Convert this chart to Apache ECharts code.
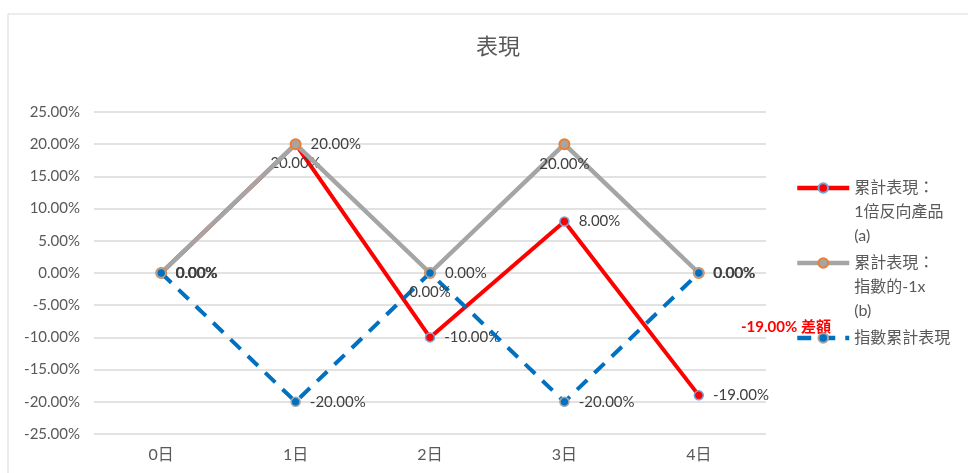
<!DOCTYPE html>
<html>
<head>
<meta charset="utf-8">
<script src="https://cdn.jsdelivr.net/npm/echarts@6/dist/echarts.min.js"></script>
<style>html,body{margin:0;padding:0;background:#fff;}#c{width:968px;height:473px;}</style>
</head>
<body>
<div id="c"></div>
<script>
const categories = ['0日', '1日', '2日', '3日', '4日'];
const nameA = '累計表現：\n1倍反向產品\n(a)';
const nameB = '累計表現：\n指數的-1x\n(b)';
const nameC = '指數累計表現';
const valuesA = [0, 0.20, -0.10, 0.08, -0.19];
const valuesB = [0, 0.20, 0, 0.20, 0];
const valuesC = [0, -0.20, 0, -0.20, 0];
const titleText = '表現';
const noteText = '-19.00% 差額';

const labelPosA = ['right', 'bottom', 'right', 'right', 'right'];
const labelPosB = ['right', 'right', 'right', 'bottom', 'right'];
const labelPosC = ['right', 'right', 'bottom', 'right', 'right'];

const FONT = "Lato, 'Noto Sans CJK TC', sans-serif";
const pct = v => (v * 100).toFixed(2) + '%';

function mkData(vals, pos) {
  return vals.map((v, i) => ({
    value: v,
    label: pos[i] === 'bottom' ? { position: 'bottom', distance: 6 } : { position: 'right', distance: 9 }
  }));
}

const labelBase = { show: true, formatter: p => pct(p.value), color: '#404040', fontSize: 15, fontFamily: FONT };

function mkLegend(name, top, multi) {
  return {
    data: [name], left: 795, top: top,
    orient: 'vertical', padding: 0, itemWidth: 52, itemHeight: 12, selectedMode: false,
    lineStyle: { width: 4.5 },
    formatter: multi ? (n => '\n\n' + n) : (n => n),
    textStyle: { fontSize: 16, lineHeight: 24, color: '#595959', fontFamily: FONT }
  };
}

const chart = echarts.init(document.getElementById('c'));
chart.setOption({
  animation: false,
  backgroundColor: '#fff',
  title: { text: titleText, left: 493, textAlign: 'center', top: 31,
    textStyle: { fontSize: 22, fontWeight: 'normal', color: '#595959', fontFamily: FONT } },
  grid: { left: 94, right: 202, top: 112, bottom: 39 },
  graphic: [
    { type: 'rect', shape: { x: 8, y: 14, width: 980, height: 520 }, style: { fill: 'none', stroke: '#D9D9D9', lineWidth: 1 }, z: -1 },
    { type: 'text', x: 741, y: 327, style: { text: noteText, fill: '#FF0000', font: "bold 15px Lato, 'Noto Sans CJK TC'", verticalAlign: 'middle' }, z: 1 }
  ],
  legend: [
    mkLegend(nameA, 128, true),
    mkLegend(nameB, 203, true),
    mkLegend(nameC, 326, false)
  ],
  xAxis: {
    type: 'category', data: categories, boundaryGap: true,
    axisLine: { show: false }, axisTick: { show: false },
    axisLabel: { color: '#595959', fontSize: 16, fontFamily: FONT, margin: 13 }
  },
  yAxis: {
    type: 'value', min: -0.25, max: 0.25, interval: 0.05,
    axisLine: { show: false }, axisTick: { show: false },
    axisLabel: { formatter: pct, color: '#595959', fontSize: 15, fontFamily: FONT, margin: 14 },
    splitLine: { lineStyle: { color: '#D9D9D9', width: 1.5 } }
  },
  series: [
    { name: nameA, type: 'line', data: mkData(valuesA, labelPosA), symbol: 'circle', symbolSize: 9,
      lineStyle: { color: '#FF0000', width: 4 }, itemStyle: { color: '#FF0000', borderColor: '#6FA8DC', borderWidth: 1.5 },
      label: labelBase, z: 2 },
    { name: nameB, type: 'line', data: mkData(valuesB, labelPosB), symbol: 'circle', symbolSize: 10,
      lineStyle: { color: '#A5A5A5', width: 4.5 }, itemStyle: { color: '#A5A5A5', borderColor: '#ED7D31', borderWidth: 2 },
      label: labelBase, z: 3 },
    { name: nameC, type: 'line', data: mkData(valuesC, labelPosC), symbol: 'circle', symbolSize: 9,
      lineStyle: { color: '#0070C0', width: 4, type: [14, 10] }, itemStyle: { color: '#0070C0', borderColor: '#A5A5A5', borderWidth: 1.5 },
      label: labelBase, z: 4 }
  ]
});
</script>
</body>
</html>
